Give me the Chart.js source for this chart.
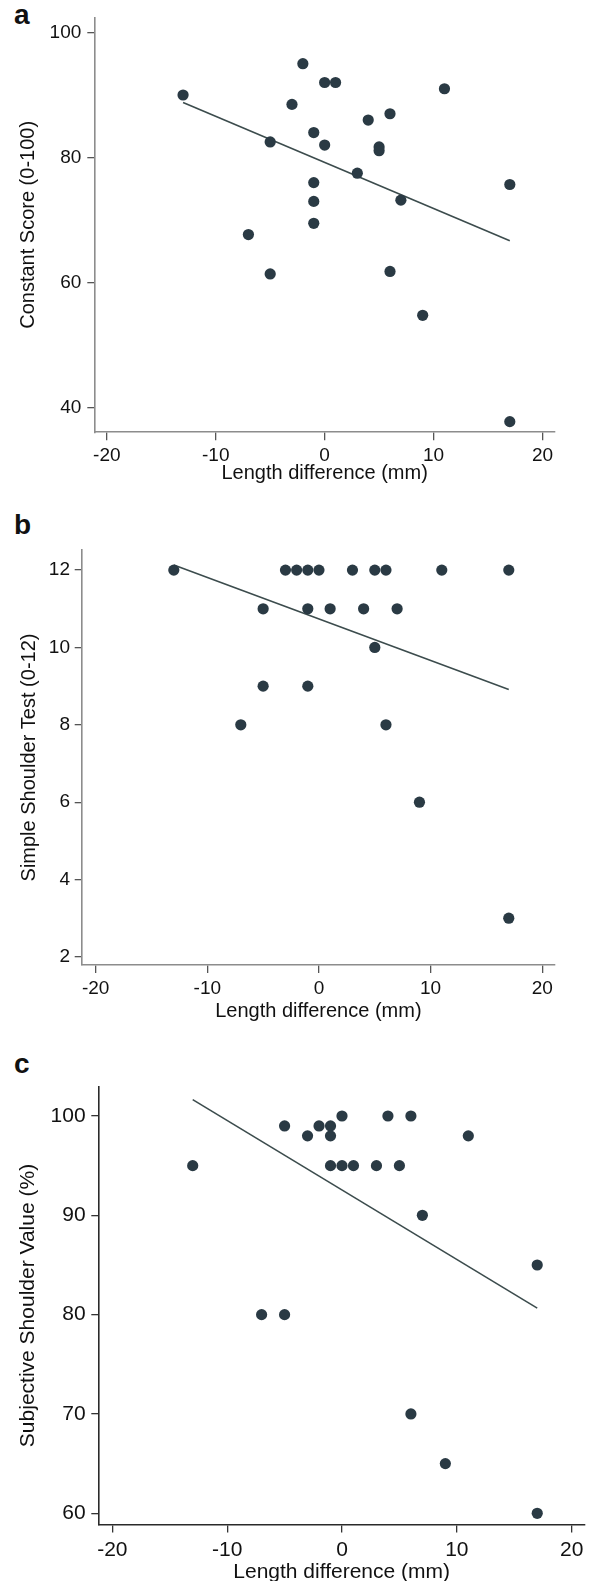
<!DOCTYPE html>
<html>
<head>
<meta charset="utf-8">
<script src="https://cdn.jsdelivr.net/npm/chart.js@4"></script>
<style>
  html, body { margin: 0; padding: 0; background: #fff; overflow: hidden; }
  body { width: 592px; height: 1581px; position: relative; }
  canvas { position: absolute; left: 0; }
  .tag { position: absolute; left: 14px; font: bold 28px "Liberation Sans", Arial, sans-serif; line-height: 28px; color: #111; }
</style>
</head>
<body>
<div class="tag" style="top:1px">a</div>
<div class="tag" style="top:511px">b</div>
<div class="tag" style="top:1050px">c</div>
<canvas id="chart-a" style="top:0px"></canvas>
<canvas id="chart-b" style="top:500px"></canvas>
<canvas id="chart-c" style="top:1030px"></canvas>
<script>
// x tick labels are shared by all three panels
const lengthTicks = [-20, -10, 0, 10, 20];

// a: Constant Score
const aLength   = [-13, -2, 0, 1, 11, -3, 6, 4, -1, -5, 0, 5, 5, 3, -1, 17, -1, 7, -1, -7, -5, 6, 9, 17];
const aConstant = [90.0, 95.0, 92.0, 92.0, 91.0, 88.5, 87.0, 86.0, 84.0, 82.5, 82.0, 81.7, 81.1, 77.5, 76.0, 75.7, 73.0, 73.2, 69.5, 67.7, 61.4, 61.8, 54.8, 37.8];
const aFitX = [-13, 17];
const aFitY = [88.8, 66.7];
const aTicks = [40, 60, 80, 100];

// b: Simple Shoulder Test
const bLength = [-13, -3, -2, -1, 0, 3, 5, 6, 11, 17, -5, -1, 1, 4, 7, 5, -5, -1, -7, 6, 9, 17];
const bSST    = [12, 12, 12, 12, 12, 12, 12, 12, 12, 12, 11, 11, 11, 11, 11, 10, 9, 9, 8, 8, 6, 3];
const bFitX = [-13, 17];
const bFitY = [12.13, 8.91];
const bTicks = [2, 4, 6, 8, 10, 12];

// c: Subjective Shoulder Value
const cLength = [-13, -5, -3, -2, -1, -1, 0, -1, 0, 1, 3, 4, 5, 6, 11, 7, 17, -7, -5, 6, 9, 17];
const cSSV    = [95, 99, 98, 99, 99, 98, 100, 95, 95, 95, 95, 100, 95, 100, 98, 90, 85, 80, 80, 70, 65, 60];
const cFitX = [-13, 17];
const cFitY = [101.65, 80.66];
const cTicks = [60, 70, 80, 90, 100];

const FONT = '"Liberation Sans", Arial, sans-serif';
const dotColor = '#2a3a44';
const lineColor = '#3c4c4d';

function pairs(xs, ys) {
    return xs.map((x, i) => ({ x: x, y: ys[i] }));
}

function makePanel(id, p) {
    const canvas = document.getElementById(id);
    canvas.width = 592;
    canvas.height = p.height;
    canvas.style.width = '592px';
    canvas.style.height = p.height + 'px';

    return new Chart(canvas.getContext('2d'), {
        type: 'scatter',
        data: {
            datasets: [
                {
                    label: 'points',
                    data: pairs(p.xs, p.ys),
                    backgroundColor: dotColor,
                    borderColor: dotColor,
                    pointRadius: 5.6,
                    pointBorderWidth: 0,
                    clip: false
                },
                {
                    label: 'fit',
                    type: 'line',
                    data: pairs(p.fitX, p.fitY),
                    borderColor: lineColor,
                    borderWidth: 1.6,
                    pointRadius: 0,
                    fill: false,
                    clip: false
                }
            ]
        },
        options: {
            responsive: false,
            animation: false,
            events: [],
            layout: { padding: p.pad },
            plugins: { legend: { display: false }, tooltip: { enabled: false } },
            scales: {
                x: {
                    type: 'linear',
                    position: 'bottom',
                    min: p.xMin,
                    max: p.xMax,
                    afterBuildTicks: s => { s.ticks = lengthTicks.map(v => ({ value: v })); },
                    afterFit: s => { s.height = p.xHeight; },
                    grid: { drawOnChartArea: false, drawTicks: true, tickLength: p.xTickLen, color: p.tickColor, lineWidth: 1.3 },
                    border: { display: true, color: p.axisColor, width: 1.6 },
                    ticks: { padding: p.xTickPad, color: '#111', font: { family: FONT, size: p.tickSize }, maxRotation: 0 },
                    title: { display: true, text: 'Length difference (mm)', color: '#111',
                             font: { family: FONT, size: p.titleSize, lineHeight: 1 }, padding: { top: 0, bottom: 0 } }
                },
                y: {
                    type: 'linear',
                    min: p.yMin,
                    max: p.yMax,
                    afterBuildTicks: s => { s.ticks = p.yTicks.map(v => ({ value: v })); },
                    afterFit: s => { s.width = p.yWidth; },
                    grid: { drawOnChartArea: false, drawTicks: true, tickLength: 7, color: p.tickColor, lineWidth: 1.3 },
                    border: { display: true, color: p.axisColor, width: 1.6 },
                    ticks: { padding: p.yTickPad, color: '#111', font: { family: FONT, size: p.tickSize } },
                    title: { display: true, text: p.yTitle, color: '#111',
                             font: { family: FONT, size: p.titleSize, lineHeight: 1 }, padding: { top: p.yTitlePad, bottom: 0 } }
                }
            }
        }
    });
}

makePanel('chart-a', {
    height: 500, xs: aLength, ys: aConstant, fitX: aFitX, fitY: aFitY, yTicks: aTicks,
    yTitle: 'Constant Score (0-100)',
    pad: { top: 16.7, right: 37, bottom: 17, left: 0 },
    yWidth: 94.3, xHeight: 50.7,
    xMin: -21.15, xMax: 21.15, yMin: 36.1, yMax: 102.4,
    tickSize: 19, titleSize: 20, yTitlePad: 18, xTickPad: 4.3, yTickPad: 6, xTickLen: 8,
    axisColor: '#8c8c8c', tickColor: '#555'
});

makePanel('chart-b', {
    height: 530, xs: bLength, ys: bSST, fitX: bFitX, fitY: bFitY, yTicks: bTicks,
    yTitle: 'Simple Shoulder Test (0-12)',
    pad: { top: 50, right: 37, bottom: 9, left: 0 },
    yWidth: 81.7, xHeight: 56,
    xMin: -21.25, xMax: 21.14, yMin: 1.79, yMax: 12.52,
    tickSize: 19, titleSize: 20, yTitlePad: 19, xTickPad: 4.6, yTickPad: 4.7, xTickLen: 8,
    axisColor: '#8c8c8c', tickColor: '#555'
});

makePanel('chart-c', {
    height: 560, xs: cLength, ys: cSSV, fitX: cFitX, fitY: cFitY, yTicks: cTicks,
    yTitle: 'Subjective Shoulder Value (%)',
    pad: { top: 56.7, right: 7, bottom: 7.5, left: 0 },
    yWidth: 98.3, xHeight: 58.2,
    xMin: -21.22, xMax: 21.16, yMin: 58.89, yMax: 102.95,
    tickSize: 21, titleSize: 21, yTitlePad: 18, xTickPad: 4.8, yTickPad: 5.7, xTickLen: 8.3,
    axisColor: '#2a2a2a', tickColor: '#333'
});
</script>
</body>
</html>
